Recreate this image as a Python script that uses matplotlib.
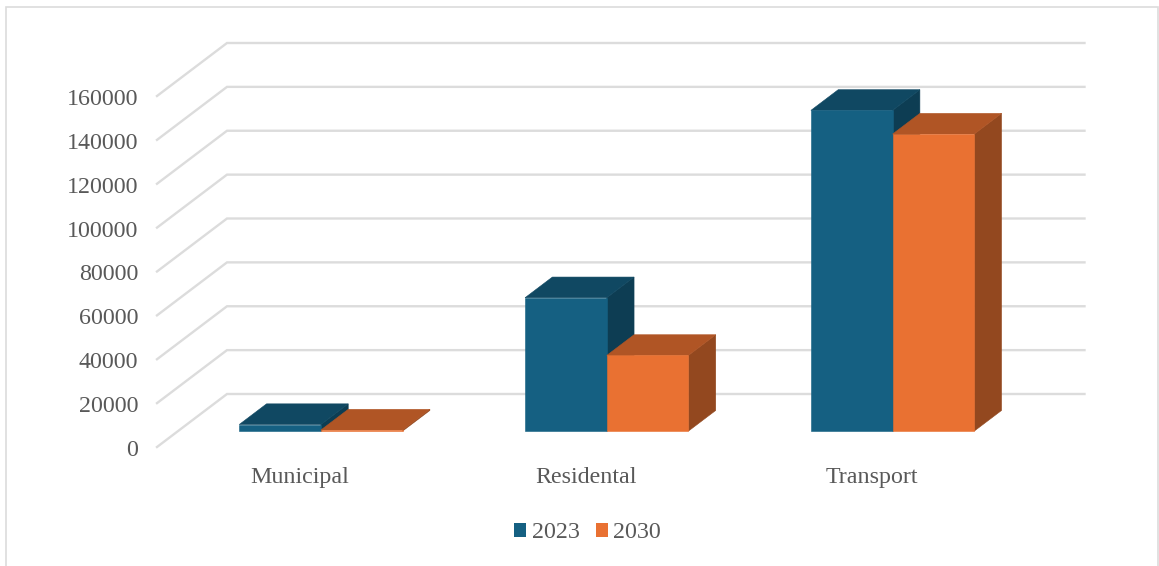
import matplotlib
matplotlib.use("Agg")
import matplotlib.pyplot as plt
from matplotlib.patches import Polygon, Patch, Rectangle
from matplotlib.transforms import ScaledTranslation

categories = ["Municipal", "Residental", "Transport"]
years = ["2023", "2030"]
values_2023 = [3000, 60800, 146200]
values_2030 = [500, 34500, 135400]
yticks = [0, 20000, 40000, 60000, 80000, 100000, 120000, 140000, 160000]

W, H = 1159, 566
plt.rcParams["font.family"] = ["Liberation Serif", "DejaVu Serif"]

# front face colour, top face, side face
colors_2023 = ("#156082", "#104862", "#0d3d53")
colors_2030 = ("#e97132", "#b05525", "#93481f")
grid_color = "#dcdcdc"
text_color = "#595959"
label_size = 17.25

fig = plt.figure(figsize=(W / 100, H / 100), dpi=100)
fig.patch.set_facecolor("white")

# axes rectangle is the front plane of the fake 3d box
left, right, top, bottom = 157, 1014.5, 96, 447
ax = fig.add_axes([left / W, 1 - bottom / H, (right - left) / W, (bottom - top) / H])
ax.set_xlim(-0.5, 2.5)
ax.set_ylim(0, 160000)
ax.patch.set_alpha(0)
for s in ax.spines.values():
    s.set_visible(False)

# how far one full unit of depth moves a point, in data units
depth_x = 70 / (right - left) * 3
depth_y = 53 / (bottom - top) * 160000


def project(x, v, d):
    return (x + d * depth_x, v + d * depth_y)


# gridlines: side wall then back wall
for v in yticks:
    p0 = project(-0.5, v, 0)
    p1 = project(-0.5, v, 1)
    p2 = project(2.5, v, 1)
    ax.plot([p0[0], p1[0], p2[0]], [p0[1], p1[1], p2[1]], color=grid_color, lw=1.7,
            solid_joinstyle="miter", clip_on=False, zorder=1)

bar_w = 1 / 3.5
d0, d1 = 0.30, 0.69


def draw_bar(x0, v, cols, z):
    x1 = x0 + bar_w
    front = [project(x0, 0, d0), project(x1, 0, d0), project(x1, v, d0), project(x0, v, d0)]
    roof = [project(x0, v, d0), project(x1, v, d0), project(x1, v, d1), project(x0, v, d1)]
    side = [project(x1, 0, d0), project(x1, 0, d1), project(x1, v, d1), project(x1, v, d0)]
    for pts, c in ((side, cols[2]), (roof, cols[1]), (front, cols[0])):
        ax.add_patch(Polygon(pts, closed=True, facecolor=c, edgecolor=c, lw=0.4,
                             clip_on=False, zorder=z))


for i in range(len(categories)):
    draw_bar(i - bar_w, values_2023[i], colors_2023, 2)
    draw_bar(i, values_2030[i], colors_2030, 3)

ax.set_xticks(range(len(categories)))
ax.set_xticklabels(categories)
ax.set_yticks(yticks)
ax.set_yticklabels([str(v) for v in yticks])
ax.tick_params(axis="x", length=0, pad=14.4, labelsize=label_size, labelcolor=text_color)
ax.tick_params(axis="y", length=0, pad=13.5, labelsize=label_size, labelcolor=text_color)

# nudge the value labels down a little
nudge_y = ScaledTranslation(0, -1 / 100, fig.dpi_scale_trans)
for lab in ax.get_yticklabels():
    lab.set_transform(lab.get_transform() + nudge_y)

handles = [Patch(facecolor=colors_2023[0], label=years[0]),
           Patch(facecolor=colors_2030[0], label=years[1])]
fig.legend(handles=handles, loc="center", bbox_to_anchor=(587.5 / W, 1 - 533 / H), ncol=2,
           frameon=False, fontsize=label_size, labelcolor=text_color, handlelength=0.52,
           handleheight=0.52, handletextpad=0.22, columnspacing=0.68, borderpad=0)

# chart area border, runs off the bottom of the image
fig.add_artist(Rectangle((6 / W, -10 / H), (1158 - 6) / W, (H - 7 + 10) / H,
                         transform=fig.transFigure, fill=False,
                         edgecolor=grid_color, lw=1.2))

fig.savefig("out.png", dpi=100)
